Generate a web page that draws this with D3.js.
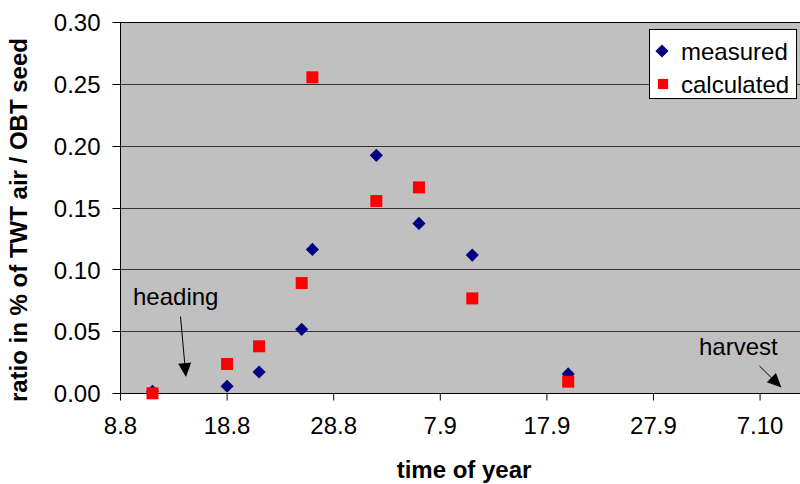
<!DOCTYPE html>
<html><head><meta charset="utf-8">
<script src="https://cdn.jsdelivr.net/npm/d3@7"></script>
<style>html,body{margin:0;padding:0;background:#fff;}svg{display:block;font-family:"Liberation Sans",Arial,sans-serif;}</style>
</head><body>
<svg id="c" width="800" height="484"></svg>
<script>
const sampleDates = ["2005-08-11","2005-08-18","2005-08-21","2005-08-25","2005-08-26","2005-09-01","2005-09-05","2005-09-10","2005-09-19"];
const measured = [0.002, 0.006, 0.0175, 0.052, 0.1166, 0.1926, 0.1376, 0.112, 0.016];
const calculated = [0.0003, 0.024, 0.0383, 0.0894, 0.2556, 0.1557, 0.1667, 0.077, 0.0097];
const xTickDates = ["2005-08-08","2005-08-18","2005-08-28","2005-09-07","2005-09-17","2005-09-27","2005-10-07"];
const xTickLabels = ["8.8","18.8","28.8","7.9","17.9","27.9","7.10"];
const yTicks = [0, 0.05, 0.10, 0.15, 0.20, 0.25, 0.30];
const seriesNames = ["measured", "calculated"];
const annotations = [
  {text: "heading", date: "2005-08-14", value: 0.0135},
  {text: "harvest", date: "2005-10-09", value: 0.005}
];

(function () {
const parse = d3.utcParse("%Y-%m-%d");
const svg = d3.select("#c");
const pLeft = 120.5, pRight = 802.7, pTop = 22.4, pBottom = 393.7;
const x = d3.scaleUtc().domain([parse("2005-08-08"), parse("2005-10-11")]).range([pLeft, pRight]);
const y = d3.scaleLinear().domain([0, 0.30]).range([pBottom, pTop]);
const snap = v => Math.round(v - 0.5) + 0.5;
const FONT = '"Liberation Sans",Arial,sans-serif';

// plot background
svg.append("rect").attr("x", snap(pLeft)).attr("y", snap(y(0.30)))
  .attr("width", 800 - snap(pLeft)).attr("height", snap(y(0)) - snap(y(0.30)))
  .attr("fill", "#C0C0C0");

// gridlines
svg.append("g").selectAll("line").data(yTicks.filter(t => t > 0)).join("line")
  .attr("x1", snap(pLeft)).attr("x2", 800)
  .attr("y1", d => snap(y(d))).attr("y2", d => snap(y(d)))
  .attr("stroke", d => d === 0.30 ? "#000" : "#333").attr("stroke-width", 1);

// y axis
const yAxis = svg.append("g").attr("transform", `translate(${snap(pLeft)},0)`)
  .call(d3.axisLeft(y).tickValues(yTicks).tickFormat(d3.format(".2f")).tickSize(8).tickPadding(12).offset(0));
yAxis.select(".domain").remove();
yAxis.selectAll(".tick line").attr("stroke", "#000").attr("transform", d => `translate(0,${snap(y(d)) - y(d)})`);
yAxis.selectAll("text").attr("font-size", 24).attr("fill", "#000").attr("font-family", FONT).attr("dy", "0.36em");
svg.append("line").attr("x1", snap(pLeft)).attr("x2", snap(pLeft)).attr("y1", snap(y(0.30))).attr("y2", snap(y(0)))
  .attr("stroke", "#000");

// x axis
const xAxis = svg.append("g").attr("transform", `translate(0,${snap(y(0))})`)
  .call(d3.axisBottom(x).tickValues(xTickDates.map(parse)).tickFormat((d, i) => xTickLabels[i]).tickSize(7).tickPadding(16).offset(0));
xAxis.select(".domain").remove();
xAxis.selectAll(".tick line").attr("stroke", "#000");
xAxis.selectAll("text").attr("font-size", 24).attr("fill", "#000").attr("font-family", FONT);
svg.append("line").attr("x1", snap(pLeft)).attr("x2", 800).attr("y1", snap(y(0))).attr("y2", snap(y(0)))
  .attr("stroke", "#000");

// axis titles
svg.append("text").attr("transform", `translate(27,${(pTop + pBottom) / 2 + 12}) rotate(-90)`)
  .attr("text-anchor", "middle").attr("font-size", 24).attr("font-weight", "bold").text("ratio in % of TWT air / OBT seed");
svg.append("text").attr("x", 464).attr("y", 478).attr("text-anchor", "middle")
  .attr("font-size", 24).attr("font-weight", "bold").text("time of year");

// points
const diamond = d3.symbol().type(d3.symbolSquare).size(86);
const square = d3.symbol().type(d3.symbolSquare).size(144);
svg.append("g").selectAll("path").data(measured).join("path")
  .attr("d", diamond)
  .attr("transform", (d, i) => `translate(${x(parse(sampleDates[i]))},${y(d)}) rotate(45)`)
  .attr("fill", "#000080");
svg.append("g").selectAll("path").data(calculated).join("path")
  .attr("d", square)
  .attr("transform", (d, i) => `translate(${x(parse(sampleDates[i]))},${y(d)})`)
  .attr("fill", "#FF0000");

// annotations with arrows
function arrow(x1, y1, x2, y2) {
  const ang = Math.atan2(y2 - y1, x2 - x1), L = 14, W = 6.5;
  const bx = x2 - L * Math.cos(ang), by = y2 - L * Math.sin(ang);
  svg.append("line").attr("x1", x1).attr("y1", y1).attr("x2", bx).attr("y2", by).attr("stroke", "#000").attr("stroke-width", 1);
  svg.append("path").attr("d", `M${x2},${y2}L${bx + W * Math.sin(ang)},${by - W * Math.cos(ang)}L${bx - W * Math.sin(ang)},${by + W * Math.cos(ang)}Z`).attr("fill", "#000");
}
const ha = annotations[0];
const hx = x(parse(ha.date)), hy = y(ha.value);
svg.append("text").attr("x", 133).attr("y", 305).attr("font-size", 24).text(ha.text);
arrow(180.5, 316.5, hx + 1.5, hy);
const va = annotations[1];
const vx = x(parse(va.date)), vy = y(va.value);
svg.append("text").attr("x", 699).attr("y", 355).attr("font-size", 24).text(va.text);
arrow(759.5, 366, vx, vy);

// legend
const lg = svg.append("g");
lg.append("rect").attr("x", 649.5).attr("y", 29.5).attr("width", 147).attr("height", 69).attr("fill", "#fff").attr("stroke", "#000");
seriesNames.forEach((name, i) => {
  const cy = 51 + i * 33;
  lg.append("path").attr("d", i === 0 ? diamond : square)
    .attr("transform", i === 0 ? `translate(662,${cy}) rotate(45)` : `translate(663,${cy}) scale(0.85)`)
    .attr("fill", i === 0 ? "#000080" : "#FF0000");
  lg.append("text").attr("x", 681).attr("y", cy + 9).attr("font-size", 24).text(name);
});
})();
</script>
</body></html>
